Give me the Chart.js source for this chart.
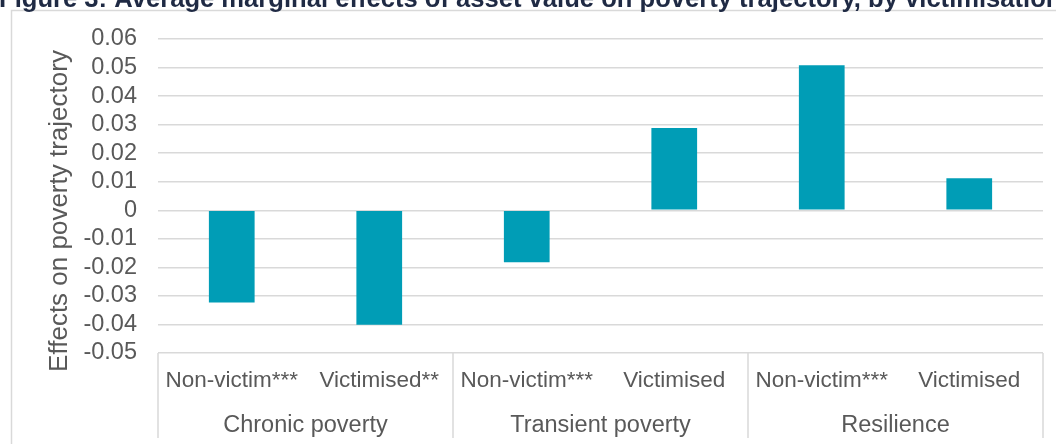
<!DOCTYPE html>
<html>
<head>
<meta charset="utf-8">
<script src="https://cdn.jsdelivr.net/npm/chart.js@4/dist/chart.umd.min.js"></script>
<style>
  html, body { margin: 0; padding: 0; background: #ffffff; }
  #wrap { width: 1056px; height: 444px; position: relative; overflow: hidden; }
</style>
</head>
<body>
<div id="wrap"><canvas id="c" width="1056" height="444"></canvas></div>
<script>
// ---- Data ----
const titleText = 'Figure 3: Average marginal effects of asset value on poverty trajectory, by victimisation';
const yAxisTitle = 'Effects on poverty trajectory';
const groups = ['Chronic poverty', 'Transient poverty', 'Resilience'];
const subLabels = ['Non-victim***', 'Victimised**', 'Non-victim***', 'Victimised', 'Non-victim***', 'Victimised'];
const values = [-0.0323, -0.0401, -0.0182, 0.0288, 0.0508, 0.0112];
const yMin = -0.05, yMax = 0.06, yStep = 0.01;

const TEXT = '#595959';
const GRID = '#d9d9d9';
const FONT = '"Liberation Sans", Arial, sans-serif';

const decor = {
  id: 'decor',
  beforeDraw(chart) {
    const ctx = chart.ctx;
    ctx.save();
    // outer frame
    ctx.strokeStyle = GRID;
    ctx.lineWidth = 1.5;
    ctx.beginPath();
    ctx.moveTo(11.5, chart.height);
    ctx.lineTo(11.5, 10.5);
    ctx.lineTo(chart.width, 10.5);
    ctx.stroke();
    // title (clipped at top)
    ctx.fillStyle = '#1f2a44';
    ctx.font = 'bold 25.6px ' + FONT;
    ctx.textAlign = 'left';
    ctx.textBaseline = 'alphabetic';
    ctx.fillText(titleText, -1, 6.5);
    ctx.restore();
  },
  afterDraw(chart) {
    const ctx = chart.ctx;
    const ca = chart.chartArea;
    const xs = chart.scales.x;
    ctx.save();
    // group separators
    ctx.strokeStyle = GRID;
    ctx.lineWidth = 1.5;
    const n = subLabels.length;
    const step = (ca.right - ca.left) / n;
    const per = n / groups.length;
    for (let i = 0; i <= n; i += per) {
      const x = ca.left + i * step;
      ctx.beginPath();
      ctx.moveTo(x, ca.bottom);
      ctx.lineTo(x, ca.bottom + 85);
      ctx.stroke();
    }
    // group labels
    ctx.fillStyle = TEXT;
    ctx.font = '23.5px ' + FONT;
    ctx.textAlign = 'center';
    ctx.textBaseline = 'middle';
    groups.forEach((g, gi) => {
      const a = xs.getPixelForValue(gi * per);
      const b = xs.getPixelForValue(gi * per + per - 1);
      ctx.fillText(g, (a + b) / 2, ca.bottom + 73);
    });
    // y-axis title
    ctx.font = '26px ' + FONT;
    ctx.translate(60, (ca.top + ca.bottom) / 2 + 15);
    ctx.rotate(-Math.PI / 2);
    ctx.fillText(yAxisTitle, 0, 0);
    ctx.restore();
  }
};

new Chart(document.getElementById('c'), {
  type: 'bar',
  data: {
    labels: subLabels,
    datasets: [{
      data: values,
      backgroundColor: '#009db6',
      borderWidth: 0,
      categoryPercentage: 1.0,
      barPercentage: 0.31
    }]
  },
  options: {
    responsive: false,
    animation: false,
    events: [],
    layout: { padding: { top: 39, right: 13, left: 0, bottom: 0 } },
    plugins: { legend: { display: false }, tooltip: { enabled: false }, title: { display: false } },
    scales: {
      x: {
        grid: { display: false, drawTicks: false },
        border: { display: false },
        ticks: {
          color: TEXT,
          font: { family: FONT, size: 22.5 },
          maxRotation: 0, minRotation: 0, autoSkip: false,
          padding: 14
        },
        afterFit(scale) { scale.height = 91; }
      },
      y: {
        min: yMin, max: yMax,
        grid: { color: GRID, lineWidth: 1.5, drawTicks: false },
        border: { display: false },
        ticks: {
          stepSize: yStep,
          autoSkip: false,
          color: TEXT,
          font: { family: FONT, size: 23.5 },
          padding: 21,
          callback(v) {
            const r = Math.round(v * 100) / 100;
            return r === 0 ? '0' : r.toFixed(2);
          }
        },
        afterFit(scale) { scale.width = 158; }
      }
    }
  },
  plugins: [decor]
});
</script>
</body>
</html>
